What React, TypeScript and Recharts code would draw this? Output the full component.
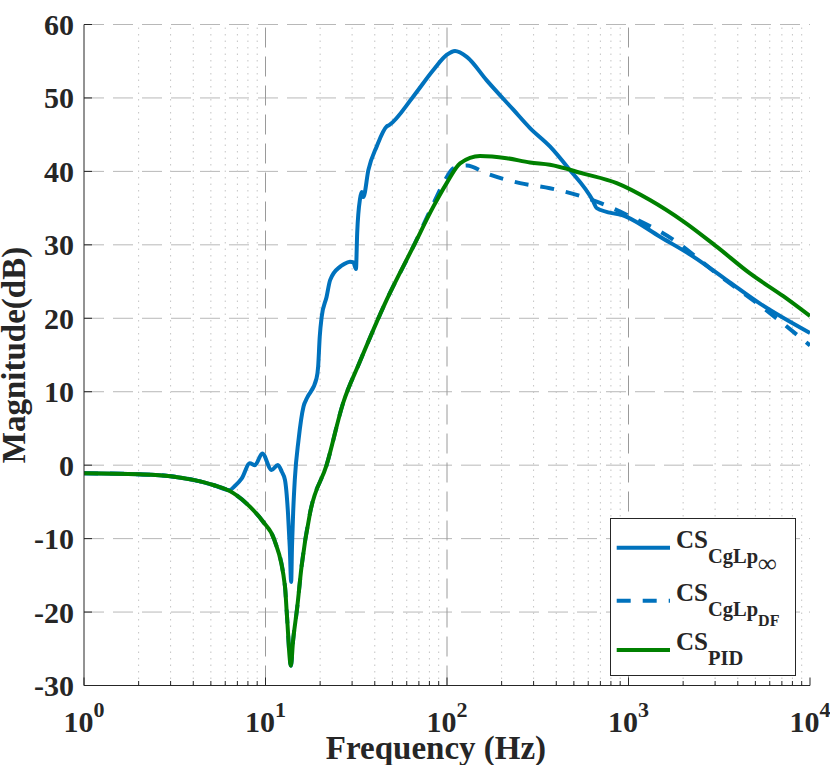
import React from "react";
import { LineChart, Line, XAxis, YAxis, CartesianGrid, ReferenceLine, Legend } from "recharts";

// axis ticks
const decadeTicks = [1, 10, 100, 1000, 10000];
const minorTicks = [
  2, 3, 4, 5, 6, 7, 8, 9,
  20, 30, 40, 50, 60, 70, 80, 90,
  200, 300, 400, 500, 600, 700, 800, 900,
  2000, 3000, 4000, 5000, 6000, 7000, 8000, 9000,
];
const magTicks = [-30, -20, -10, 0, 10, 20, 30, 40, 50, 60];

// CS CgLp (infinity) - solid blue
const freqInf = [
  1, 2, 3, 4, 5.15, 6.3, 6.8, 7.4, 8.2, 8.75, 9.6, 10.8, 11.7, 12.3, 12.8, 13.3, 13.6, 13.85,
  14.0, 14.2, 14.5, 15.2, 16.2, 16.9, 19.1, 19.5, 19.9, 20.4, 21.7, 22.7, 25.7, 26.8, 29.2,
  30.5, 31.5, 32.0, 33.2, 33.9, 34.6, 36.9, 41, 46.5, 48, 65.2, 84.1, 99.6, 110.7, 128.5,
  165.5, 231.9, 286.6, 369, 464, 640, 668, 977, 1492, 2275, 3475, 5305, 10000,
];
const magInf = [
  -1.1, -1.24, -1.5, -2.0, -2.7, -3.4, -2.8, -1.8, 0.26, 0.0, 1.6, -0.65, 0.03, -0.9, -2.0, -6.5, -11.1, -15.9,
  -11.0, -6.5, -2.0, 3.4, 8.0, 9.1, 11.8, 13.4, 17.5, 20.2, 22.9, 25.2, 27.0, 27.3, 27.7,
  27.6, 26.7, 31.6, 36.3, 37.2, 36.5, 40.2, 43.4, 46.1, 46.3, 50.2, 53.8, 55.85, 56.4, 55.6,
  52.4, 48.4, 45.9, 43.4, 40.5, 35.9, 35.0, 33.8, 31.1, 28.4, 25.2, 22.0, 18.0,
];

// CS CgLp (describing function) - dashed blue
const freqDF = [
  1, 2, 3, 4, 5.15, 6.65, 8.2, 9.7, 11.2, 12.8, 13.1, 13.8, 14.2, 14.9, 15.8, 17.6, 21.7,
  26.8, 33, 46.5, 65.2, 84.1, 99.6, 108, 118, 128.5, 165.5, 252.6, 369, 518, 697, 977,
  1766, 3061, 5530, 10000,
];
const magDF = [
  -1.1, -1.24, -1.5, -2.0, -2.7, -3.8, -5.65, -7.7, -10.2, -16.5, -20.1, -27.3, -23.8, -19.7, -13.8, -6.5, 0.0,
  8.5, 14.0, 22.5, 29.75, 35.6, 39.2, 40.4, 40.7, 40.8, 39.7, 38.4, 37.7, 36.8, 35.7, 34.1,
  30.7, 26.1, 21.4, 16.3,
];

// CS PID - solid green
const freqPID = [
  1, 2, 3, 4, 5.15, 6.65, 8.2, 9.7, 11.2, 12.8, 13.1, 13.8, 14.2, 14.9, 15.8, 17.6, 21.7,
  26.8, 33, 46.5, 65.2, 84.1, 99.6, 118, 152, 213, 286.6, 369, 563, 861, 1313, 2004, 3061,
  4670, 7127, 10000,
];
const magPID = [
  -1.1, -1.24, -1.5, -2.0, -2.7, -3.8, -5.65, -7.7, -10.2, -16.5, -20.1, -27.3, -23.8, -19.7, -13.8, -6.5, 0.0,
  8.5, 14.0, 22.5, 29.75, 35.2, 38.4, 41.1, 42.1, 41.8, 41.2, 40.9, 39.7, 38.4, 36.1, 33.2, 29.75,
  26.1, 23.0, 20.3,
];

const seriesNames = ["CS_CgLp_inf", "CS_CgLp_DF", "CS_PID"];
const legendRows = [
  { main: "CS", sub: "CgLp", subsub: "∞" },
  { main: "CS", sub: "CgLp", subsub: "DF" },
  { main: "CS", sub: "PID", subsub: "" },
];

const BLUE = "#0072BD";
const GREEN = "#008000";
const INK = "#262626";
const FONT = "'Liberation Serif', 'Times New Roman', serif";

const toPoints = (fs: number[], ms: number[]) => fs.map((f, i) => ({ f, v: ms[i] }));

const dataInf = toPoints(freqInf, magInf);
const dataDF = toPoints(freqDF, magDF);
const dataPID = toPoints(freqPID, magPID);

const allXTicks = [...decadeTicks, ...minorTicks].sort((a, b) => a - b);

const BottomTick = (props: any) => {
  const { x, y, payload } = props;
  const v = payload.value;
  const major = decadeTicks.includes(v);
  const len = major ? 8 : 4.5;
  return (
    <g>
      <line x1={x} x2={x} y1={y} y2={y - len} stroke={INK} strokeWidth={1} />
      {major && (
        <text x={x} y={y + 46} textAnchor="middle" fill={INK} fontFamily={FONT} fontWeight="bold">
          <tspan fontSize={30}>10</tspan>
          <tspan fontSize={22} dy={-14.5}>{Math.round(Math.log10(v))}</tspan>
        </text>
      )}
    </g>
  );
};

const TopTick = (props: any) => {
  const { x, y, payload } = props;
  const major = decadeTicks.includes(payload.value);
  const len = major ? 8 : 4.5;
  return <line x1={x} x2={x} y1={y} y2={y + len} stroke={INK} strokeWidth={1} />;
};

const LeftTick = (props: any) => {
  const { x, y, payload } = props;
  return (
    <g>
      <line x1={x} x2={x + 8} y1={y} y2={y} stroke={INK} strokeWidth={1} />
      <text x={x - 10} y={y + 10.5} textAnchor="end" fill={INK} fontFamily={FONT} fontWeight="bold" fontSize={30}>
        {payload.value}
      </text>
    </g>
  );
};

const RightTick = (props: any) => {
  const { x, y } = props;
  return <line x1={x} x2={x - 8} y1={y} y2={y} stroke={INK} strokeWidth={1} />;
};

const LegendBox = (props: any) => {
  const payload = props.payload || [];
  const rowY = [29.7, 82.7, 132];
  return (
    <svg width={187} height={159} style={{ display: "block" }}>
      <rect x={0.5} y={0.5} width={185} height={157} fill="#ffffff" stroke={INK} strokeWidth={1} />
      {legendRows.map((row, i) => {
        const entry = payload.find((e: any) => e.value === seriesNames[i]) || {};
        const dash = entry.payload && entry.payload.strokeDasharray;
        return (
          <g key={i}>
            <line
              x1={6.7}
              x2={60}
              y1={rowY[i]}
              y2={rowY[i]}
              stroke={entry.color}
              strokeWidth={4}
              strokeDasharray={dash}
            />
            <text x={66} y={rowY[i]} fill={INK} fontFamily={FONT} fontWeight="bold">
              <tspan fontSize={25}>{row.main}</tspan>
              <tspan fontSize={20.5} dy={15}>{row.sub}</tspan>
              {row.subsub && (
                <tspan fontSize={row.subsub === "∞" ? 26 : 16} dy={row.subsub === "∞" ? 9 : 10}>
                  {row.subsub}
                </tspan>
              )}
            </text>
          </g>
        );
      })}
    </svg>
  );
};

export default function App() {
  return (
    <div style={{ position: "absolute", left: 0, top: 0, width: 830, height: 765, background: "#ffffff" }}>
      <LineChart width={830} height={765} margin={{ top: 24.5, right: 20, bottom: 0, left: 0 }}>
        <CartesianGrid vertical={false} stroke="#b8b8b8" strokeDasharray="20 9" />
        <XAxis
          dataKey="f"
          type="number"
          scale="log"
          domain={[1, 10000]}
          allowDataOverflow
          ticks={allXTicks}
          interval={0}
          height={79.5}
          tickSize={0}
          tickMargin={0}
          tick={(p: any) => <BottomTick {...p} />}
          stroke={INK}
          label={{
            value: "Frequency (Hz)",
            position: "insideBottom",
            offset: 6,
            dx: -11,
            style: { fontFamily: FONT, fontWeight: "bold", fontSize: 33, fill: INK },
          }}
        />
        <XAxis
          xAxisId="top"
          orientation="top"
          dataKey="f"
          type="number"
          scale="log"
          domain={[1, 10000]}
          allowDataOverflow
          ticks={allXTicks}
          interval={0}
          height={0}
          tickSize={0}
          tickMargin={0}
          tick={(p: any) => <TopTick {...p} />}
          stroke={INK}
        />
        <YAxis
          type="number"
          domain={[-30, 60]}
          ticks={magTicks}
          interval={0}
          width={84}
          tickSize={0}
          tickMargin={0}
          tick={(p: any) => <LeftTick {...p} />}
          stroke={INK}
          label={{
            value: "Magnitude(dB)",
            angle: -90,
            position: "insideLeft",
            offset: 13,
            style: { fontFamily: FONT, fontWeight: "bold", fontSize: 33, fill: INK, textAnchor: "middle" },
          }}
        />
        <YAxis
          yAxisId="right"
          orientation="right"
          type="number"
          domain={[-30, 60]}
          ticks={magTicks}
          interval={0}
          width={0}
          tickSize={0}
          tickMargin={0}
          tick={(p: any) => <RightTick {...p} />}
          stroke={INK}
        />
        {minorTicks.map((v) => (
          <ReferenceLine key={`m${v}`} x={v} stroke="#c4c4c4" strokeWidth={1} strokeDasharray="1.5 5" />
        ))}
        {decadeTicks.slice(1, 4).map((v) => (
          <ReferenceLine key={`d${v}`} x={v} stroke="#9a9a9a" strokeWidth={1} strokeDasharray="20 9" />
        ))}
        <Line
          data={dataInf}
          dataKey="v"
          name={seriesNames[0]}
          type="monotone"
          stroke={BLUE}
          strokeWidth={4}
          strokeLinejoin="round"
          dot={false}
          isAnimationActive={false}
        />
        <Line
          data={dataDF}
          dataKey="v"
          name={seriesNames[1]}
          type="monotone"
          stroke={BLUE}
          strokeWidth={4}
          strokeDasharray="14 12"
          dot={false}
          isAnimationActive={false}
        />
        <Line
          data={dataPID}
          dataKey="v"
          name={seriesNames[2]}
          type="monotone"
          stroke={GREEN}
          strokeWidth={4}
          strokeLinejoin="round"
          dot={false}
          isAnimationActive={false}
        />
        <Legend
          layout="vertical"
          align="center"
          verticalAlign="middle"
          content={(p: any) => <LegendBox {...p} />}
          wrapperStyle={{ left: 610, top: 518, width: 187, height: 159 }}
        />
      </LineChart>
    </div>
  );
}
